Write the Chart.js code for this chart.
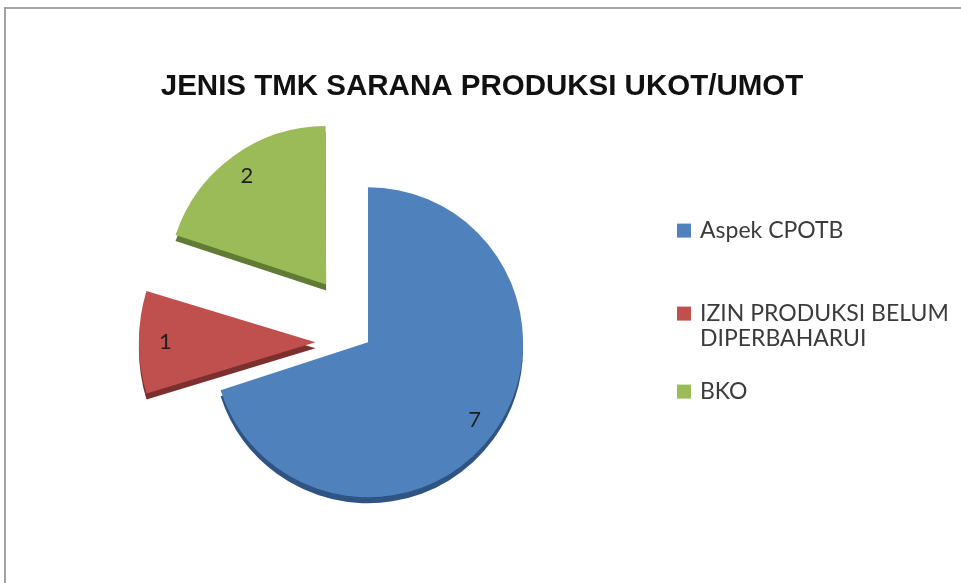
<!DOCTYPE html>
<html>
<head>
<meta charset="utf-8">
<script src="https://cdn.jsdelivr.net/npm/chart.js@4.4.1/dist/chart.umd.min.js"></script>
<style>
  html, body { margin: 0; padding: 0; background: #fff; overflow: hidden; }
  .frame { position: absolute; left: 4px; top: 7px; width: 1000px; height: 700px; border: 2px solid #a3a3a3; box-sizing: border-box; }
  .wrap { position: absolute; left: 0; top: 0; width: 961px; height: 583px; }
</style>
</head>
<body>
<div class="frame"></div>
<div class="wrap"><canvas id="tmkChart"></canvas></div>
<script>
// values
const chartTitle = 'JENIS TMK SARANA PRODUKSI UKOT/UMOT';
const categories = ['Aspek CPOTB', 'IZIN PRODUKSI BELUM DIPERBAHARUI', 'BKO'];
const legendText = [['Aspek CPOTB'], ['IZIN PRODUKSI BELUM', 'DIPERBAHARUI'], ['BKO']];
const counts = [7, 1, 2];

const sliceColors = ['#4f81bd', '#c0504d', '#9bbb59'];
const sideColors = ['#2f5383', '#7c302e', '#617a34'];
const explode = [0, 210, 285];

// legend rows, measured from the top of the legend box
const legendRowY = [41.6, 124.6, 202.6];
const legendLineGap = 25;

// legend drawn in its own layout box on the right (excel style spacing)
const sideLegend = {
    id: 'sideLegend',
    beforeInit: function (chart) {
        Chart.layouts.addBox(chart, {
            position: 'right',
            weight: 10,
            fullSize: false,
            options: {},
            width: 0,
            height: 0,
            isHorizontal: function () { return false; },
            update: function (maxWidth, maxHeight) {
                this.width = 228;
                this.height = maxHeight;
            },
            draw: function () {
                const ctx = chart.ctx;
                const box = this;
                ctx.save();
                ctx.font = '23px Lato';
                ctx.textBaseline = 'middle';
                ctx.textAlign = 'left';
                legendText.forEach(function (lines, i) {
                    const y = box.top + legendRowY[i];
                    ctx.fillStyle = sliceColors[i];
                    ctx.fillRect(box.left + 30, y - 7, 14, 14);
                    ctx.fillStyle = '#3b3b3b';
                    lines.forEach(function (line, j) {
                        ctx.fillText(line, box.left + 53, y + j * legendLineGap);
                    });
                });
                ctx.restore();
            }
        });
    }
};

// darker copy of each slice a few px lower, gives the 3d edge
const depthPlugin = {
    id: 'depth',
    beforeDatasetsDraw: function (chart) {
        const ctx = chart.ctx;
        chart.getDatasetMeta(0).data.forEach(function (arc, i) {
            const side = Object.create(arc);
            side.options = Object.assign({}, arc.options, { backgroundColor: sideColors[i], borderWidth: 0 });
            ctx.save();
            ctx.translate(0, 6);
            side.draw(ctx);
            ctx.restore();
        });
    }
};

// value labels inside the slices
const valueLabels = {
    id: 'valueLabels',
    afterDatasetsDraw: function (chart) {
        const ctx = chart.ctx;
        ctx.save();
        ctx.font = '22px Lato';
        ctx.fillStyle = '#1e1e1e';
        ctx.textAlign = 'center';
        ctx.textBaseline = 'middle';
        chart.getDatasetMeta(0).data.forEach(function (arc, i) {
            const mid = (arc.startAngle + arc.endAngle) / 2;
            const shift = (arc.options.offset || 0) / 4;
            const grow = shift * (1 - Math.sin(Math.min(Math.PI, arc.circumference)));
            const r = shift + (arc.outerRadius + grow) * 0.85;
            ctx.fillText(String(counts[i]), arc.x + Math.cos(mid) * r, arc.y + Math.sin(mid) * r);
        });
        ctx.restore();
    }
};

new Chart(document.getElementById('tmkChart'), {
    type: 'pie',
    data: {
        labels: categories,
        datasets: [{
            data: counts,
            backgroundColor: sliceColors,
            borderWidth: 0,
            offset: explode,
            radius: 155,
            clip: false
        }]
    },
    options: {
        responsive: true,
        maintainAspectRatio: false,
        animation: false,
        layout: {
            padding: { left: 89, right: 86, top: 69, bottom: 87.5 }
        },
        plugins: {
            title: {
                display: true,
                text: chartTitle,
                align: 'center',
                color: '#111',
                font: { family: 'Liberation Sans', size: 29.5, weight: 'bold', lineHeight: 1.2 },
                padding: { top: 0, bottom: 84.6 }
            },
            legend: { display: false },
            tooltip: { enabled: false }
        }
    },
    plugins: [sideLegend, depthPlugin, valueLabels]
});
</script>
</body>
</html>
